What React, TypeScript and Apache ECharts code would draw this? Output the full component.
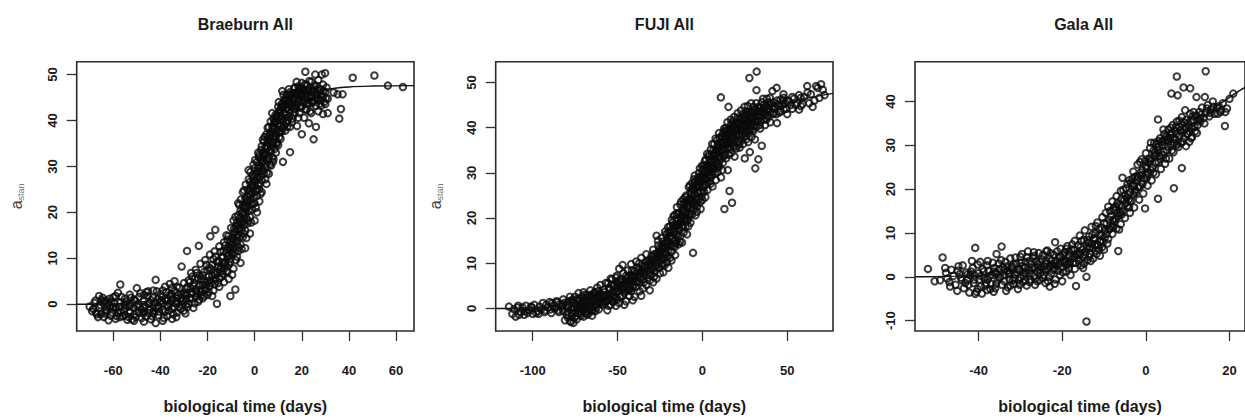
import React, { useEffect, useRef } from "react";
import * as echarts from "echarts";

// ---------- Braeburn ----------
const braeburnLow = [
  -70,-0.5, -69,-1.5, -68,0.3, -67,-2.2, -66,-0.8, -65,0.9, -64,-2.8, -63,-1.2, -62,0.2, -61,-2.5,
  -60,-0.6, -60,1.5, -59,-3.2, -58,-1.8, -57,0.4, -57,4.3, -56,-2.6, -55,1.2, -55,-0.9, -54,-3.4,
  -53,-1.5, -53,2.1, -52,0.3, -51,-2.2, -50,-0.4, -50,3.5, -49,1.6, -48,-3.0, -48,-1.2, -47,0.8,
  -47,-3.8, -46,2.6, -45,-1.9, -45,0.1, -44,-3.3, -43,1.4, -43,3.0, -42,-0.8, -42,-4.1, -42,5.3,
  -41,-2.4, -40,0.5, -40,2.2, -39,-1.2, -39,-3.6, -38,1.0, -38,3.8, -37,-0.3, -37,-2.6, -36,2.0,
  -36,4.4, -35,-1.0, -35,-3.2, -35,0.9, -34,2.9, -34,5.0, -33,-1.8, -33,1.3, -32,3.6, -32,-0.5,
  -31,0.6, -31,8.2, -30,2.4, -30,4.6, -30,-1.4, -66,1.8, -62,-3.5, -58,2.5, -52,-3.3, -46,-2.7,
  -44,0.9, -41,1.2, -38,-1.6, -36,0.2, -34,-0.6
];
const braeburnLow2 = [
  -68.5,-1.0, -67.5,0.8, -66.5,-2.8, -65.5,-0.2, -64.5,1.4, -63.5,-2.0, -62.5,-0.4, -61.5,1.2, -60.5,-1.8, -59.5,0.2,
  -58.5,-2.6, -57.5,-0.6, -56.5,1.6, -55.5,-1.6, -54.5,0.6, -53.5,-2.8, -52.5,1.4, -51.5,-0.8, -50.5,-2.8, -49.5,0.0,
  -48.5,2.4, -47.5,-2.0, -46.5,-0.4, -45.5,1.8, -44.5,-1.2, -43.5,-2.6, -42.5,0.4, -41.5,2.8, -40.5,-1.6, -39.5,0.8,
  -38.5,-3.0, -37.5,2.6, -36.5,-1.4, -35.5,1.6, -34.5,-2.2, -33.5,0.2, -32.5,2.0, -31.5,-1.0, -30.5,0.8, -64,0.4,
  -59,1.8, -55,-2.4, -51,1.0, -47,2.0, -43,-0.4, -39,3.0, -35,3.6, -33,3.8, -31,2.2
];
const braeburnMid = [
  -29.4,-2.0, -29,1.0, -29,3.4, -28.7,11.6, -28,5.2, -28,0.1, -27,2.3, -27,6.8, -26,-0.8, -26,4.0,
  -25,1.6, -25,3.2, -25,7.5, -24,0.5, -24,5.6, -23.7,12.7, -23,2.7, -23,8.8, -22,4.2, -22,1.3,
  -22,6.3, -21,3.0, -21,9.6, -20,5.0, -20,2.0, -20,7.4, -19,3.9, -19,10.8, -18.8,14.8, -18,6.2,
  -18,1.8, -18,8.6, -17,4.4, -17,11.5, -16.7,16.2, -16,0.1, -16,7.0, -16,9.2, -15,3.8, -15,5.6,
  -15,12.6, -14,8.0, -14,6.0, -14,10.4, -13,4.8, -13,9.0, -13,13.5, -12,7.2, -12,11.2, -12,15.0,
  -11,8.6, -11,12.4, -11,5.5, -10.3,1.8, -10,10.0, -10,13.8, -10,16.6, -9,7.8
];
const braeburnMid2 = [
  -29.5,2.2, -28.5,-0.6, -28.5,3.8, -27.5,1.4, -27.5,4.8, -26.5,2.6, -26.5,6.0, -25.5,0.2, -25.5,4.6, -24.5,2.4,
  -24.5,6.8, -23.5,4.0, -23.5,1.0, -22.5,5.4, -22.5,3.0, -21.5,7.0, -21.5,1.8, -20.5,4.2, -20.5,8.6, -19.5,6.0,
  -19.5,2.6, -18.5,7.6, -18.5,4.6, -17.5,9.8, -17.5,3.0, -16.5,6.4, -16.5,10.4, -15.5,8.2, -15.5,4.6, -14.5,11.4,
  -14.5,7.0, -13.5,6.6, -13.5,10.2, -12.5,9.0, -12.5,12.8, -11.5,10.4, -11.5,7.0, -11.5,14.0, -10.5,9.2, -10.5,12.0,
  -9.5,11.0, -9.5,14.4, -9.5,6.4
];
const braeburnRise = [
  -9,12.0, -9,15.2, -9,18.2, -8.2,3.2, -8,9.6, -8,13.6, -8,17.0, -7,11.6, -7,15.0, -7,19.4,
  -7,22.0, -6,13.0, -6,16.6, -6,20.4, -6,9.0, -5,14.6, -5,18.0, -5,21.6, -5,24.4, -4,16.0,
  -4,19.6, -4,23.0, -4,12.2, -3,17.6, -3,21.2, -3,25.0, -2.6,29.2, -2,19.0, -2,22.6, -2,26.6,
  -2,15.4, -1,20.6, -1,24.2, -1,28.0, 0,18.2, 0,22.0, 0,25.8, 0,29.6, 1,23.6, 1,27.4,
  1,31.0, 1,20.0, 2,25.0, 2,29.0, 2,32.6, 2,22.4, 3,27.0, 3,30.6, 3,34.4, 3,24.4,
  4,28.4, 4,32.2, 4,35.4, 5,26.2, 5,30.0, 5,33.8, 5,37.0, 6,31.8, 6,35.2, 6,28.4,
  6,38.6, 7,33.4, 7,36.8, 7,30.2, 7.4,41.6, 8,34.8, 8,38.2, 8,31.6, 8,40.4, 9,36.4,
  9,39.6, 9,33.0, 10,37.4, 10,40.8, 10,34.6, 10,43.0, 11,38.8, 11,42.0, 11,36.0, 11.7,46.4,
  12,31.0, 12,39.6, 12,43.0, 13,41.2, 13,37.8, 13,44.6, 14,40.0, 14,42.8, 14,45.6, 15,33.1,
  15,41.6, 15,44.2, 15,38.6
];
const braeburnRise2 = [
  -8.5,11.2, -8.5,15.8, -7.5,13.4, -7.5,17.8, -7.5,10.4, -6.5,14.6, -6.5,18.6, -6.5,21.6, -5.5,16.2, -5.5,19.8,
  -5.5,12.0, -4.5,17.4, -4.5,21.2, -4.5,24.8, -3.5,18.8, -3.5,22.6, -3.5,14.4, -2.5,20.4, -2.5,24.0, -2.5,27.2,
  -1.5,21.8, -1.5,25.6, -1.5,17.8, -0.5,23.2, -0.5,27.0, -0.5,30.4, 0.5,24.6, 0.5,28.4, 0.5,21.0, 1.5,26.0,
  1.5,29.6, 1.5,33.0, 2.5,27.8, 2.5,31.4, 2.5,24.0, 3.5,29.2, 3.5,32.8, 3.5,35.8, 4.5,30.6, 4.5,34.0,
  4.5,27.2, 5.5,32.2, 5.5,35.6, 5.5,38.4, 6.5,33.6, 6.5,37.0, 6.5,30.4, 7.5,35.2, 7.5,38.6, 7.5,32.0,
  8.5,36.6, 8.5,39.8, 8.5,33.8, 9.5,38.0, 9.5,41.2, 9.5,35.2, 10.5,39.2, 10.5,42.2, 10.5,36.4, 11.5,40.4,
  11.5,43.6, 11.5,37.6, 12.5,41.6, 12.5,44.4, 12.5,38.8, 13.5,42.6, 13.5,39.4, 13.5,45.6, 14.5,43.4, 14.5,40.8,
  14.5,46.8
];
const braeburnTop = [
  16,43.0, 16,46.0, 16,40.4, 17,44.6, 17,41.8, 17,47.2, 18,43.4, 18,45.8, 18,38.8, 19,44.4,
  19,46.8, 19,41.6, 20,45.4, 20,43.0, 20,48.2, 20,37.0, 21,44.2, 21,46.6, 21,40.6, 21.5,50.6,
  22,45.2, 22,47.8, 22,42.4, 23,43.8, 23,46.4, 23,39.4, 24,45.0, 24,48.4, 24,41.6, 25,35.9,
  25,44.2, 25,46.8, 25.7,50.0, 26,43.2, 26,47.6, 26,38.6, 27,45.6, 27,42.0, 27,48.8, 28,44.4,
  28,46.8, 28.5,50.0, 29,41.4, 29,45.2, 29,47.8, 29.9,50.3, 30,43.6, 30,46.2, 31,44.8, 31,41.6,
  33.5,46.1, 35.2,45.7, 35.9,40.4, 36.6,42.5, 37.3,45.7, 41.6,49.3, 50.8,49.8, 56.5,47.6, 62.9,47.3
];
const braeburnTop2 = [
  15.5,43.2, 15.5,45.6, 16.5,44.6, 16.5,41.2, 17.5,45.8, 17.5,43.0, 18.5,44.8, 18.5,47.4, 18.5,40.6, 19.5,45.6,
  19.5,43.2, 20.5,46.6, 20.5,44.0, 21.5,45.6, 21.5,42.4, 22.5,44.4, 22.5,46.8, 23.5,45.4, 23.5,42.0, 24.5,46.4,
  24.5,43.8, 25.5,45.4, 26.5,44.6, 26.5,46.6, 27.5,43.6, 28.5,45.6, 29.5,44.0, 30.5,47.2
];
const braeburnFill = [
  -67.2,-1.8, -65.2,-2.2, -63.2,0.8, -61.2,-0.8, -59.2,-1.0, -57.2,-2.8, -55.2,0.2, -53.2,-0.4, -51.2,-3.6, -49.2,-1.8,
  -47.2,-0.8, -45.2,2.8, -43.2,-1.6, -41.2,-0.4, -39.2,1.6, -37.2,0.8, -35.2,2.2, -33.2,-2.8, -31.2,1.4, -29.2,-0.2,
  -27.2,3.4, -25.2,5.6, -23.2,6.2, -21.2,4.8, -19.2,8.0, -17.2,6.8, -15.2,9.4, -13.2,11.6, -12.2,8.4, -11.2,14.8,
  -10.2,11.6, -9.2,13.4, -8.8,16.4, -8.2,19.0, -7.2,16.4, -6.8,12.4, -6.2,18.0, -5.8,22.8, -5.2,20.0, -4.8,15.4,
  -4.2,20.8, -3.8,26.0, -3.2,23.4, -2.8,18.2, -2.2,24.6, -1.8,28.8, -1.2,26.2, -0.8,21.8, -0.2,27.8, 0.2,31.4,
  0.8,25.0, 1.2,28.8, 1.8,32.0, 2.2,26.2, 2.8,33.6, 3.2,29.0, 3.8,31.2, 4.2,36.4, 4.8,32.6, 5.2,28.6,
  5.8,36.6, 6.2,33.4, 6.8,39.8, 7.2,35.4, 7.8,31.0, 8.2,37.2, 8.8,41.2, 9.2,34.8, 9.8,39.0, 10.2,44.0,
  10.8,37.6, 11.2,41.0, 11.8,38.4, 12.2,45.6, 12.8,40.6, 13.2,43.6, 13.8,38.6, 14.2,44.2, 14.8,42.4, 15.2,46.2,
  15.8,39.6, 16.2,44.8, 16.8,47.0, 17.2,42.6, 17.8,48.4, 18.2,44.2, 18.8,46.4, 19.2,42.8, 19.8,47.2, 20.2,44.6,
  21.2,47.8, 22.2,43.6, 23.2,48.6, 24.2,44.2, 25.2,47.4, 26.2,45.0, 27.2,47.0, 28.2,43.2, 29.2,46.4, 30.2,44.8
];
const braeburnCore = [
  -62.8,-1.4, -60.8,0.6, -58.8,-0.8, -56.8,-1.6, -54.8,-0.2, -52.8,-1.8, -50.8,0.8, -48.8,-0.6, -46.8,-1.6, -44.8,0.4,
  -42.8,-2.0, -40.8,-0.8, -38.8,0.2, -36.8,-0.6, -34.8,1.2, -32.8,0.4, -30.8,-0.2, -28.8,2.0, -26.8,1.2, -24.8,2.8,
  -22.8,2.0, -20.8,3.4, -18.8,5.2, -16.8,5.4, -14.8,7.6, -13.8,9.0, -12.8,7.8, -11.8,12.0, -10.8,10.6, -9.8,12.8,
  -8.8,14.2, -7.8,15.0, -6.8,17.2, -5.8,17.6, -4.8,19.8, -3.8,21.2, -2.8,22.4, -1.8,23.8, -0.8,25.4, 0.2,26.6,
  1.2,27.8, 2.2,29.6, 3.2,31.0, 4.2,33.0, 5.2,34.4, 6.2,36.0, 7.2,37.6, 8.2,39.4, 9.2,40.6, 10.2,41.6,
  11.2,42.8, 12.2,43.8, 13.2,44.6, 14.2,45.2, 15.2,44.0, 16.2,45.6, 17.2,46.0, 18.2,45.6, 19.2,46.6, 20.2,45.8,
  22.2,46.0, 24.2,46.4, 26.2,46.0
];
const braeburnFitX = [-75.5, -60, -50, -40, -30, -20, -15, -10, -5, 0, 5, 10, 15, 20, 25, 30, 40, 50, 67.6];
const braeburnFitY = [0, 0.1, 0.4, 1.1, 2.4, 4.8, 7, 11, 17, 24, 31.5, 37.5, 41.5, 44.2, 45.8, 46.7, 47.3, 47.5, 47.6];
const braeburnXTicks = [-60, -40, -20, 0, 20, 40, 60];
const braeburnYTicks = [0, 10, 20, 30, 40, 50];

// ---------- FUJI ----------
const fujiLow = [
  -114,0.4, -112,-1.2, -110,-1.8, -109,0.2, -107,-0.8, -105,-1.4, -104,0.6, -102,-0.4, -100,-1.2, -99,0.8,
  -97,-0.6, -96,0.4, -94,1.2, -93,-0.8, -91,0.2, -90,1.4, -89,-1.0, -88,0.6, -86,1.6, -85,-0.4,
  -84,1.0, -82,2.0, -81,-2.6, -80,0.4, -80,-1.4, -79,1.6, -78,-2.8, -78,2.6, -77,0.0, -77,-1.8,
  -76,-3.2, -76,1.2, -75,2.6, -75,-0.8, -74,0.6, -74,-2.4, -73,1.8, -73,3.4, -72,-1.2, -72,0.4,
  -71,2.6, -71,-0.2, -70,1.4, -70,3.6, -70,-1.8, -69,0.0, -69,2.2, -68,-1.0, -68,3.0, -67,1.0,
  -67,-0.4, -66,2.4, -66,4.0, -65,0.2, -65,-1.6, -64,1.8, -64,3.4, -63,0.8, -63,-0.6, -62,2.8,
  -62,4.6, -61,1.4, -61,-0.2, -60,3.2, -60,2.0, -60,5.2
];
const fujiLow2 = [
  -111,-0.2, -108,-1.4, -106,0.2, -103,-1.0, -101,0.4, -98,-1.0, -95,-0.2, -92,0.8, -89.5,-0.2, -87,0.0,
  -85.5,1.4, -83,0.4, -81.5,1.2, -79.5,-0.8, -78.5,0.8, -77.5,-3.0, -76.5,2.0, -75.5,0.2, -74.5,-1.6, -73.5,0.0,
  -72.5,2.2, -71.5,-1.6, -70.5,0.6, -69.5,3.0, -68.5,1.2, -67.5,-1.4, -66.5,0.4, -65.5,3.0, -64.5,-0.6, -63.5,2.2,
  -62.5,0.2, -61.5,3.8, -60.5,1.2, -74,2.0, -71,1.0, -68,1.8, -65,1.4, -62,1.0
];
const fujiMid = [
  -59,0.8, -58,2.6, -58,4.2, -57,1.4, -57,5.6, -56,3.0, -56,-0.4, -55,2.0, -55,4.6, -54,6.6,
  -54,0.8, -53,3.6, -53,1.6, -52,5.0, -52,2.6, -51,6.8, -51,0.6, -50,3.8, -50,2.0, -50,5.6,
  -49,8.8, -49,1.2, -48,4.4, -48,6.4, -47,2.8, -47,9.6, -46,5.2, -46,3.4, -45,7.2, -45,1.6,
  -44,4.2, -44,6.0, -44,8.4, -43,2.8, -43,5.4, -42,7.4, -42,3.8, -42,9.8, -41,6.0, -41,4.6,
  -40,8.2, -40,2.6, -40,6.6, -39,10.4, -39,4.8, -38,7.2, -38,9.0, -37,3.8, -37,5.8, -36,8.2,
  -36,11.2, -35,6.4, -35,4.4, -34,9.4, -34,7.4, -33,12.0, -33,5.2, -32,8.4, -32,10.4, -31,6.2,
  -31,4.0, -30,9.2, -30,11.6, -30,7.6, -29,13.0, -29,5.8, -28,10.0, -28,8.2, -27,12.2, -27,16.1,
  -27,6.6, -26,9.8, -26,14.0, -25,11.4, -25,7.8, -24,13.2, -24,9.6, -24,15.6, -23,11.0, -23,8.0,
  -22,14.4, -22,12.2, -22,17.0, -21,10.2, -21,15.0, -20,12.8, -20,16.8, -20,9.0
];
const fujiMid2 = [
  -59.5,2.8, -58.5,1.2, -57.5,3.6, -56.5,1.6, -55.5,5.6, -54.5,3.0, -53.5,5.2, -52.5,1.4, -51.5,3.8, -50.5,7.2,
  -49.5,4.6, -48.5,2.6, -47.5,5.8, -46.5,7.8, -45.5,3.8, -44.5,5.4, -43.5,7.0, -42.5,4.6, -41.5,8.4, -40.5,5.2,
  -39.5,7.0, -38.5,5.8, -37.5,8.6, -36.5,6.6, -35.5,9.4, -34.5,5.8, -33.5,8.0, -32.5,6.8, -31.5,9.8, -30.5,8.4,
  -29.5,10.6, -28.5,7.0, -28.5,12.0, -27.5,9.2, -26.5,11.4, -25.5,13.2, -25.5,9.0, -24.5,11.8, -23.5,13.8, -23.5,10.0,
  -22.5,11.2, -21.5,13.6, -21.5,16.4, -20.5,11.4, -20.5,14.6, -46,0.8, -41,1.8, -36,2.8, -31,10.8, -26,12.4
];
const fujiRise = [
  -19,14.0, -19,18.2, -19,11.2, -18,15.6, -18,19.6, -18,12.6, -17,17.0, -17,13.8, -17,20.4, -16,15.0,
  -16,18.6, -16,11.8, -15,16.4, -15,20.0, -15,22.4, -14,17.8, -14,14.2, -14,21.0, -13,19.0, -13,16.0,
  -13,23.0, -12,18.0, -12,21.6, -12,14.6, -11,19.6, -11,23.2, -11,16.8, -10,18.0, -10,21.2, -10,24.6,
  -9,19.4, -9,22.6, -9,16.4, -8,21.0, -8,24.2, -8,26.8, -7,19.0, -7,22.4, -7,25.6, -6,23.8,
  -6,20.8, -6,27.8, -5.5,12.3, -5,22.0, -5,25.2, -5,28.6, -4,24.0, -4,26.8, -4,20.6, -3,25.6,
  -3,28.4, -3,22.6, -2,27.0, -2,24.2, -2,30.0, -1,25.8, -1,28.8, -1,22.0, 0,27.2, 0,30.4,
  0,24.0, 1,28.6, 1,25.8, 1,31.6, 2,27.4, 2,30.2, 2,33.0, 3,29.0, 3,26.2, 3,32.0,
  4,30.6, 4,28.0, 4,34.0, 5,31.4, 5,29.0, 5,35.2, 6,32.6, 6,30.0, 6,27.0, 7,33.8,
  7,31.0, 7,36.4, 8,32.0, 8,35.0, 8,28.4, 9,33.4, 9,36.2, 9,30.2, 10,34.8, 10,31.4,
  10,37.8, 10.9,46.7, 11,33.0, 11,36.0, 11,29.0, 12,35.2, 12,38.6, 12,32.2, 13,22.0, 13,36.4,
  13,39.2, 13,34.0, 14,37.4, 14,33.2, 14,40.0, 15,35.6, 15,38.4, 15,30.6, 15.4,44.6, 16,36.8,
  16,39.6, 16,26.0, 17,37.6, 17,34.4, 17,40.8, 17.5,23.4, 18,38.8, 18,36.0, 18,41.4, 19,37.0,
  19,39.8, 19,33.6, 20,38.2, 20,41.0, 20,35.4
];
const fujiRise2 = [
  -19.5,15.8, -18.5,13.8, -18.5,17.4, -17.5,15.4, -17.5,19.0, -16.5,16.8, -16.5,20.6, -15.5,14.4, -15.5,18.2, -14.5,19.4,
  -14.5,16.0, -13.5,17.4, -13.5,21.2, -12.5,19.8, -12.5,23.6, -11.5,18.0, -11.5,21.4, -10.5,20.0, -10.5,23.0, -9.5,21.2,
  -9.5,25.0, -8.5,19.6, -8.5,22.6, -7.5,24.0, -7.5,27.2, -6.5,21.6, -6.5,25.4, -5.5,23.6, -5.5,27.0, -4.5,25.4,
  -4.5,29.4, -3.5,23.4, -3.5,27.0, -2.5,25.6, -2.5,29.0, -1.5,27.4, -1.5,31.0, -0.5,24.8, -0.5,29.2, 0.5,26.8,
  0.5,30.8, 1.5,29.0, 1.5,32.6, 2.5,28.6, 2.5,31.6, 3.5,30.2, 3.5,33.6, 4.5,29.6, 4.5,32.4, 5.5,30.8,
  5.5,34.0, 6.5,31.6, 6.5,35.0, 7.5,32.6, 7.5,29.8, 8.5,34.2, 8.5,37.2, 9.5,32.0, 9.5,35.6, 10.5,33.8,
  10.5,36.8, 11.5,35.0, 11.5,38.0, 12.5,33.6, 12.5,37.0, 13.5,35.4, 13.5,38.4, 14.5,36.4, 14.5,39.4, 15.5,37.2,
  15.5,34.0, 16.5,38.2, 16.5,35.2, 17.5,39.2, 17.5,36.6, 18.5,37.6, 18.5,40.2, 19.5,38.6, 19.5,35.8
];
const fujiTop = [
  21,39.6, 21,37.0, 21,42.2, 22,38.4, 22,40.6, 22,35.6, 23,39.4, 23,41.8, 23,37.2, 24,40.2,
  24,43.0, 24,36.4, 25,39.0, 25,41.6, 25,33.2, 26,40.8, 26,38.2, 26,43.6, 27,41.2, 27,36.8,
  27.7,51.0, 28,39.6, 28,42.4, 28,34.6, 29,40.6, 29,43.6, 29,38.0, 30,41.8, 30,39.2, 30,44.6,
  31,42.6, 31,37.4, 31.2,31.0, 32,52.4, 32,40.2, 32,43.6, 31.9,48.3, 33,41.6, 33,44.6, 33,33.0,
  34,42.4, 34,39.8, 35,43.4, 35,45.6, 35,36.0, 36,41.8, 36,44.2, 37,43.0, 37,40.6, 38,44.0,
  38,46.4, 39,42.4, 39,45.0, 40,43.4, 40,41.2, 41,44.6, 41.3,48.1, 42,43.0, 42,45.6, 43,44.4,
  43.8,48.8, 44,46.0, 44,41.0, 45,44.8, 46,43.6, 46,46.2, 47,45.0, 48,44.0, 48,46.6, 49,45.4,
  50,43.0, 50,46.0, 52,45.0, 53,44.2, 54,46.4, 56,45.4, 57,44.0, 58,46.6, 59,45.2, 60,46.8,
  61.8,49.2, 63,45.4, 64,47.4, 66,46.0, 67,49.2, 68,48.8, 69,46.6, 70,49.6, 72,47.2
];
const fujiTop2 = [
  20.5,39.8, 21.5,38.2, 21.5,41.0, 22.5,39.6, 22.5,42.0, 23.5,38.4, 23.5,40.8, 24.5,41.8, 24.5,38.0, 25.5,40.2,
  25.5,42.8, 26.5,39.4, 26.5,41.8, 27.5,40.6, 27.5,43.4, 28.5,41.2, 29.5,42.2, 29.5,39.6, 30.5,43.2, 30.5,40.4,
  31.5,41.4, 32.5,42.6, 33.5,43.6, 34.5,41.4, 34.5,44.4, 35.5,42.6, 36.5,43.4, 37.5,44.8, 38.5,42.8, 39.5,44.0,
  40.5,45.2, 41.5,43.2, 42.5,44.4, 44.5,45.2, 45.5,43.4, 47.5,46.0, 49.5,44.2, 51,45.8, 55,45.0, 58,44.8
];
const fujiFill = [
  -108.5,0.6, -104.5,-0.6, -100.5,0.2, -96.5,-1.2, -92.5,-0.4, -88.5,1.2, -84.5,-0.8, -82.5,0.8, -79.2,-2.0, -77.2,1.6,
  -75.2,-2.0, -73.2,-1.0, -71.2,0.8, -69.2,-1.0, -67.2,2.6, -65.2,-0.4, -63.2,3.6, -61.2,2.4, -59.2,1.8, -57.2,2.4,
  -55.2,0.6, -53.2,6.4, -51.2,2.2, -49.2,6.2, -47.2,4.2, -45.2,6.0, -43.2,4.0, -41.2,7.2, -39.2,6.0, -37.2,10.0,
  -35.2,7.8, -33.2,10.4, -31.2,7.4, -29.2,8.8, -27.2,10.6, -26.2,15.0, -25.2,12.6, -24.2,10.8, -23.2,14.8, -22.2,9.6,
  -21.2,12.0, -20.2,18.0, -19.2,16.8, -18.2,10.6, -17.2,18.4, -16.2,13.6, -15.2,21.0, -14.2,18.6, -13.2,14.8, -12.2,20.6,
  -11.2,24.2, -10.2,19.4, -9.2,23.8, -8.2,18.2, -7.2,20.8, -6.2,26.4, -5.2,23.0, -4.2,28.0, -3.2,21.4, -2.2,28.4,
  -1.2,23.6, -0.2,31.6, 0.8,29.4, 1.8,24.6, 2.8,34.2, 3.8,31.4, 4.8,27.6, 5.8,36.4, 6.8,33.0, 7.8,37.6,
  8.8,31.2, 9.8,38.8, 10.8,34.6, 11.8,30.6, 12.8,39.8, 13.8,36.6, 14.8,41.2, 15.8,35.6, 16.8,41.8, 17.8,38.2,
  18.8,42.4, 19.8,39.4, 20.8,43.2, 21.8,36.4, 22.8,43.8, 23.8,39.4, 24.8,44.6, 25.8,37.4, 26.8,44.8, 27.8,38.8,
  28.8,45.4, 29.8,41.0, 31.8,45.4, 33.8,40.6, 35.8,46.4, 37.8,41.8, 39.8,46.6, 43.8,43.0, 47.8,47.4, 53,46.8,
  57,47.2, 62,47.8, 65,44.6, 71,48.4
];
const fujiCore = [
  -86.5,0.2, -82,-0.6, -79,0.2, -76.8,-1.0, -74.8,1.0, -72.8,0.0, -70.8,1.6, -68.8,0.6, -66.8,1.8, -64.8,2.6,
  -62.8,1.6, -60.8,3.0, -58.8,3.0, -56.8,2.8, -54.8,4.2, -52.8,3.0, -50.8,4.6, -48.8,5.2, -46.8,4.8, -44.8,6.6,
  -42.8,6.2, -40.8,7.0, -38.8,8.0, -36.8,7.6, -34.8,8.6, -32.8,9.2, -30.8,10.0, -28.8,11.2, -26.8,11.0, -24.8,12.6,
  -22.8,13.2, -20.8,14.2, -18.8,16.0, -16.8,17.6, -14.8,18.4, -12.8,20.2, -10.8,21.6, -8.8,23.2, -6.8,24.2, -4.8,26.2,
  -2.8,27.2, -0.8,28.4, 1.2,29.8, 3.2,31.2, 5.2,32.8, 7.2,34.4, 9.2,35.4, 11.2,36.6, 13.2,37.6, 15.2,39.0,
  17.2,39.8, 19.2,40.8, 21.2,41.2, 23.2,42.2, 25.2,42.4, 27.2,43.0, 29.2,43.4, 31.2,44.0, 33.2,44.4, 36.2,45.0,
  39.2,45.6
];
const fujiFitX = [-121.8, -110, -100, -90, -80, -70, -60, -50, -40, -30, -20, -10, 0, 10, 20, 30, 40, 50, 60, 77];
const fujiFitY = [0, 0, 0.1, 0.3, 0.8, 1.5, 2.5, 3.7, 5.8, 8.6, 12.8, 18.2, 24.8, 31.5, 36.8, 40.6, 43.3, 45.2, 46.4, 47.6];
const fujiXTicks = [-100, -50, 0, 50];
const fujiYTicks = [0, 10, 20, 30, 40, 50];

// ---------- Gala ----------
const galaLow = [
  -52.1,1.8, -50.5,-1.0, -48.6,4.4, -47.8,0.9, -47,-1.2, -46,0.2, -45.1,-3.2, -45,1.4, -44,-0.8, -43.5,-2.6,
  -43,1.0, -42.4,-1.8, -42,0.4, -41.4,2.0, -41,-0.6, -40.8,-3.9, -40.8,6.6, -40.5,-3.4, -40,0.8, -39.5,-2.2,
  -39,1.8, -38.6,-0.4, -38,-3.0, -38,2.6, -37.4,0.2, -37,-1.6, -36.6,3.2, -36,0.9, -36,-2.6, -35.7,5.2,
  -35.4,-0.8, -35,1.8, -34.5,6.9, -34.4,-1.8, -34,0.4, -33.6,3.4, -33,-2.4, -33,1.4, -32.6,-0.6, -32.4,4.2,
  -32,2.4, -31.6,-1.6, -31.4,0.6, -31,3.0, -30.6,-2.8, -30.4,1.6, -30,-0.2, -30,4.6, -29.6,2.4, -29.4,-1.2
];
const galaLow2 = [
  -47.5,-0.4, -46.5,1.6, -45.5,-1.8, -44.5,0.6, -43.8,2.6, -42.8,-0.8, -42.2,-3.6, -41.8,1.2, -41.2,-1.4, -40.2,2.8,
  -39.8,-0.6, -39.2,-3.8, -38.8,1.2, -38.2,-1.4, -37.8,3.6, -37.2,-2.8, -36.8,0.4, -36.2,2.0, -35.8,-1.6, -35.2,3.0,
  -34.8,0.0, -34.2,2.2, -33.8,-1.0, -33.4,-3.2, -32.8,0.6, -32.2,2.0, -31.8,-0.8, -31.2,4.4, -30.8,1.0, -30.2,-1.8,
  -29.8,3.2, -29.2,0.2
];
const galaMid = [
  -29,0.8, -28.8,3.4, -28.5,-2.0, -28.2,5.8, -28,1.6, -27.6,-0.6, -27.4,2.8, -27,4.4, -26.8,0.2, -26.5,-1.8,
  -26.2,3.6, -26,1.2, -25.6,5.4, -25.4,-0.8, -25,2.2, -24.8,4.0, -24.4,0.4, -24,-1.4, -24,3.0, -23.6,6.0,
  -23.4,1.8, -23,-2.2, -23,4.2, -22.6,0.8, -22.4,2.6, -22,5.0, -21.7,7.9, -21.6,-0.6, -21.4,3.6, -21,1.4,
  -20.8,4.6, -20.4,6.4, -20.2,2.2, -20,-1.0, -19.6,3.8, -19.4,5.6, -19,1.2, -18.8,7.0, -18.6,2.8, -18.2,4.8,
  -18,0.4, -17.8,6.2, -17.4,3.2, -17,8.2, -17,1.8, -16.7,-2.1, -16.6,5.2, -16.2,7.2, -16,3.6, -15.8,9.4,
  -15.4,2.6, -15.2,6.2, -15,4.6, -14.8,8.4, -14.6,10.6, -14.2,0.0, -14.2,-10.2, -14,3.8, -14,6.6, -13.6,9.2,
  -13.4,5.2, -13,11.4, -13,7.6, -12.6,4.2, -12.4,8.8, -12,10.0, -12,6.0, -11.6,12.4, -11.4,7.2, -11,9.6,
  -11,4.8, -10.6,11.2, -10.4,13.6, -10.2,8.0, -10,6.2
];
const galaMid2 = [
  -28.6,1.0, -28.4,4.4, -27.8,-1.2, -27.2,2.0, -26.6,4.8, -26.4,-0.4, -25.8,2.8, -25.2,0.8, -24.6,5.0, -24.2,1.6,
  -23.8,3.6, -23.2,0.0, -22.8,5.4, -22.2,1.6, -21.8,3.2, -21.2,5.8, -20.6,0.4, -19.8,4.8, -19.2,2.8, -18.4,5.8,
  -17.6,4.2, -17.2,6.2, -16.4,4.2, -15.6,6.8, -15,2.0, -14.4,5.6, -13.8,7.8, -13.2,3.6, -12.8,9.6, -12.2,7.2,
  -11.8,5.2, -11.2,10.8, -10.8,8.2, -10.4,6.8
];
const galaRise = [
  -9.8,10.6, -9.6,14.6, -9.4,12.2, -9,8.6, -9,16.0, -8.6,11.0, -8.4,13.8, -8,9.8, -8,17.2, -7.6,12.6,
  -7.4,15.2, -7,11.0, -7,18.4, -6.6,5.9, -6.6,13.8, -6.4,16.4, -6,19.6, -6,12.0, -5.6,22.6, -5.6,15.0,
  -5.2,17.6, -5,13.4, -4.8,20.2, -4.4,16.2, -4.2,18.8, -4,22.0, -3.8,14.6, -3.4,17.4, -3.2,20.8, -3,24.0,
  -2.8,15.8, -2.4,19.2, -2.2,22.2, -2,25.6, -1.6,17.6, -1.4,20.6, -1.2,23.8, -1,26.8, -0.6,19.0, -0.4,22.4,
  -0.2,15.6, 0,25.2, 0,28.2, 0.4,20.8, 0.6,23.6, 1,26.4, 1,29.4, 1.4,22.0, 1.6,25.0, 2,27.6,
  2,30.6, 2.4,23.4, 2.5,30.3, 2.9,17.8, 2.9,35.9, 3,26.2, 3,28.8, 3.4,31.6, 3.6,24.6, 4,27.8,
  4,30.0, 4.4,32.6, 4.6,25.8, 5,28.8, 5,31.2, 5.4,33.6, 5.6,27.0, 6,30.2, 6,32.4, 6.1,41.8
];
const galaRise2 = [
  -9.4,9.8, -8.8,13.0, -8.2,11.4, -7.8,15.4, -7.2,13.2, -6.8,16.8, -6.2,14.6, -5.8,17.8, -5.4,19.8, -4.6,18.0,
  -4.0,15.8, -3.6,21.4, -3.0,18.8, -2.6,22.8, -1.8,20.4, -1.0,23.2, -0.2,26.4, 0.2,22.6, 0.8,27.0, 1.2,24.4,
  1.8,28.8, 2.2,26.0, 2.8,29.6, 3.2,27.6, 3.8,30.8, 4.2,28.6, 4.8,32.0, 5.2,29.8, 5.8,31.6, 6.2,28.8
];
const galaTop = [
  6.4,34.6, 6.6,28.4, 6.7,20.2, 7,31.4, 7,33.2, 7.4,45.7, 7.4,35.4, 7.6,41.4, 7.8,29.6, 8,32.2,
  8,34.2, 8.4,30.6, 8.6,24.8, 8.6,36.4, 9,43.2, 9,31.6, 9.2,33.6, 9.4,38.0, 9.6,29.8, 10,32.6,
  10,35.0, 10.4,30.8, 10.6,43.0, 10.6,37.2, 11,34.0, 11,31.8, 11.4,35.8, 11.8,33.2, 12,36.8, 12.1,41.0,
  12.4,34.6, 12.8,37.6, 13,35.4, 13.4,38.6, 13.8,36.2, 14.1,41.0, 14.3,46.9, 14.4,37.4, 14.8,39.2, 15.2,36.6,
  15.6,38.2, 16,40.0, 16.4,37.2, 17,38.6, 17.4,38.9, 17.8,37.6, 18.4,39.6, 18.9,34.4, 19.4,38.4, 20,40.6,
  20.9,41.8
];
const galaTop2 = [
  6.8,30.6, 7.2,32.6, 7.6,30.4, 8.2,33.4, 8.8,30.8, 9.2,35.2, 9.8,32.6, 10.2,34.2, 10.8,31.6, 11.2,36.6,
  11.6,34.2, 12.6,35.8, 13.2,37.0, 14,35.0, 14.6,38.4, 15.4,37.4, 16.2,38.8, 17.2,37.2, 18,38.0, 19,37.6
];
const galaFill = [
  -49.2,-0.8, -48,2.0, -46.8,-2.2, -44.8,2.4, -43.2,-1.4, -41.6,3.6, -40.2,-2.8, -39.6,3.4, -38.4,-2.0, -37.6,1.4,
  -36.4,-3.4, -35.6,0.8, -34.6,3.8, -33.2,2.4, -32.4,-2.0, -31.6,2.8, -30.4,-0.8, -29.6,5.2, -28.8,-0.8, -27.8,3.6,
  -26.8,5.6, -26,-1.0, -25.4,3.4, -24.6,-0.2, -23.8,5.8, -23.4,-1.0, -22.6,3.6, -21.8,-1.6, -21.2,2.6, -20.4,4.6,
  -19.8,1.0, -19,6.4, -18.4,2.0, -17.6,7.4, -16.8,3.2, -16,5.6, -15.4,8.2, -14.8,3.0, -14,8.4, -13.6,4.6,
  -12.8,6.6, -12,11.6, -11.2,6.2, -10.6,9.4, -10,12.2, -9.2,7.6, -8.6,15.0, -7.8,11.4, -7.2,16.0, -6.4,10.8,
  -5.8,14.2, -5.0,18.6, -4.4,21.2, -3.8,17.2, -3.2,22.4, -2.6,19.8, -2.0,23.0, -1.4,26.2, -0.8,21.2, 0,23.2,
  0.6,26.0, 1.2,30.6, 1.8,23.8, 2.4,28.0, 3,31.0, 3.6,27.0, 4.2,33.6, 4.8,27.0, 5.4,30.8, 6,34.0,
  6.6,31.6, 7.4,30.0, 8,35.6, 8.8,33.0, 9.6,35.8, 10.4,33.2, 11.4,37.6, 12.2,32.8, 13,36.2
];
const galaCore = [
  -44.2,-0.2, -42.6,0.6, -41,0.4, -39.4,0.2, -37.8,-0.6, -36.4,1.2, -35,-0.2, -33.8,1.6, -32.6,1.0, -31.4,-0.4,
  -30.2,1.8, -29,2.2, -27.8,0.8, -26.6,2.0, -25.4,1.6, -24.2,2.4, -23,2.4, -21.8,1.8, -20.6,3.0, -19.4,3.4,
  -18.2,3.2, -17,4.6, -15.8,5.0, -14.6,5.0, -13.4,6.8, -12.2,8.4, -11,8.0, -9.8,9.0, -8.8,10.8, -7.8,13.0,
  -6.8,14.6, -5.8,16.2, -4.8,16.8, -3.8,19.2, -2.8,20.8, -1.8,22.6, -0.8,24.4, 0.2,24.8, 1.2,26.8, 2.2,28.4,
  3.2,29.8, 4.2,31.2, 5.2,31.8, 6.2,33.0, 7.2,34.0, 8.4,35.0, 9.6,34.0, 10.8,35.6
];
const galaFitX = [-55.2, -50, -45, -40, -35, -30, -25, -20, -15, -10, -5, 0, 5, 10, 15, 21.3, 23.7];
const galaFitY = [0, 0.05, 0.15, 0.3, 0.6, 1.1, 2.0, 3.6, 6.2, 10.0, 15.4, 21.8, 28, 33.2, 37.5, 41.8, 43.2];
const galaXTicks = [-40, -20, 0, 20];
const galaYTicks = [-10, 0, 10, 20, 30, 40];

const titles = ["Braeburn All", "FUJI All", "Gala All"];
const xAxisTitle = "biological time (days)";

function toPairs(...flats: number[][]): number[][] {
  const out: number[][] = [];
  for (const flat of flats) {
    for (let i = 0; i + 1 < flat.length; i += 2) out.push([flat[i], flat[i + 1]]);
  }
  return out;
}
function zip(xs: number[], ys: number[]): number[][] {
  return xs.map((x, i) => [x, ys[i]]);
}

const FONT = "'Liberation Sans', Arial, Helvetica, sans-serif";
const INK = "#1a1a1a";

const GRID_TOP = 61.7;
const GRID_H = 278.3;
const GRID_W = 337.3;

const panels = [
  {
    left: 76.7, xMin: -75.5, xMax: 67.6, yMin: -5.83, yMax: 52.8,
    xTicks: braeburnXTicks, yTicks: braeburnYTicks, yName: true,
    points: toPairs(braeburnLow, braeburnLow2, braeburnMid, braeburnMid2, braeburnRise, braeburnRise2, braeburnTop, braeburnTop2, braeburnFill, braeburnCore),
    fit: zip(braeburnFitX, braeburnFitY),
  },
  {
    left: 495.7, xMin: -121.8, xMax: 77.0, yMin: -4.99, yMax: 54.6,
    xTicks: fujiXTicks, yTicks: fujiYTicks, yName: true,
    points: toPairs(fujiLow, fujiLow2, fujiMid, fujiMid2, fujiRise, fujiRise2, fujiTop, fujiTop2, fujiFill, fujiCore),
    fit: zip(fujiFitX, fujiFitY),
  },
  {
    left: 915, xMin: -55.2, xMax: 23.7, yMin: -12.36, yMax: 49.07,
    xTicks: galaXTicks, yTicks: galaYTicks, yName: false,
    points: toPairs(galaLow, galaLow2, galaMid, galaMid2, galaRise, galaRise2, galaTop, galaTop2, galaFill, galaCore),
    fit: zip(galaFitX, galaFitY),
  },
];

export default function App() {
  const ref = useRef<HTMLDivElement | null>(null);

  useEffect(() => {
    if (!ref.current) return;
    const chart = echarts.init(ref.current, undefined, { renderer: "svg" });

    const grid = panels.map((p) => ({
      left: p.left, top: GRID_TOP, width: GRID_W, height: GRID_H,
      show: true, borderColor: "#2b2b2b", borderWidth: 1.6, backgroundColor: "transparent",
      containLabel: false,
    }));

    const xAxis = panels.map((p, i) => ({
      type: "value", gridIndex: i, min: p.xMin, max: p.xMax, position: "bottom",
      name: xAxisTitle, nameLocation: "middle", nameGap: 67,
      nameTextStyle: { fontFamily: FONT, fontSize: 16, fontWeight: "bold", color: INK },
      axisLine: { show: false, onZero: false },
      axisTick: { show: true, length: 10, customValues: p.xTicks, lineStyle: { color: "#333", width: 1.3 } },
      axisLabel: {
        customValues: p.xTicks, margin: 33, fontFamily: FONT, fontSize: 13, fontWeight: "bold", color: INK,
        showMinLabel: true, showMaxLabel: true,
      },
      splitLine: { show: false },
    }));

    const yAxis = panels.map((p, i) => ({
      type: "value", gridIndex: i, min: p.yMin, max: p.yMax, position: "left",
      name: p.yName ? "{a|a}{s|stan}" : "",
      nameLocation: "middle", nameRotate: 90, nameGap: 51,
      nameTextStyle: {
        fontFamily: FONT, color: "#444",
        rich: {
          a: { fontFamily: FONT, fontSize: 16, color: "#444", lineHeight: 18, verticalAlign: "middle" },
          s: { fontFamily: FONT, fontSize: 9, color: "#777", lineHeight: 9, verticalAlign: "bottom" },
        },
      },
      axisLine: { show: false, onZero: false },
      axisTick: { show: true, length: 10, customValues: p.yTicks, lineStyle: { color: "#333", width: 1.3 } },
      axisLabel: {
        customValues: p.yTicks, rotate: 90, margin: 18, fontFamily: FONT, fontSize: 13, fontWeight: "bold", color: INK,
        showMinLabel: true, showMaxLabel: true,
      },
      splitLine: { show: false },
    }));

    const series: any[] = [];
    panels.forEach((p, i) => {
      series.push({
        type: "scatter", xAxisIndex: i, yAxisIndex: i, data: p.points,
        symbol: "circle", symbolSize: 6.5, silent: true,
        itemStyle: { color: "transparent", borderColor: "#0a0a0a", borderWidth: 2 },
        emphasis: { disabled: true }, z: 2,
      });
      series.push({
        type: "line", xAxisIndex: i, yAxisIndex: i, data: p.fit,
        symbol: "none", showSymbol: false, smooth: 0.35, silent: true,
        lineStyle: { color: "#111", width: 1.4 }, z: 3, clip: true,
      });
    });

    const graphic = panels.map((p, i) => ({
      type: "text", x: p.left + GRID_W / 2, y: 24, silent: true,
      style: {
        text: titles[i], fontFamily: FONT, fontSize: 16, fontWeight: "bold", fill: INK,
        align: "center", verticalAlign: "middle",
      },
    }));

    chart.setOption({
      animation: false,
      grid, xAxis, yAxis, series, graphic,
    });

    return () => chart.dispose();
  }, []);

  return (
    <div style={{ position: "fixed", left: 0, top: 0, width: 1245, height: 419, overflow: "hidden", background: "#fff" }}>
      <div ref={ref} style={{ width: 1245, height: 419 }} />
    </div>
  );
}
